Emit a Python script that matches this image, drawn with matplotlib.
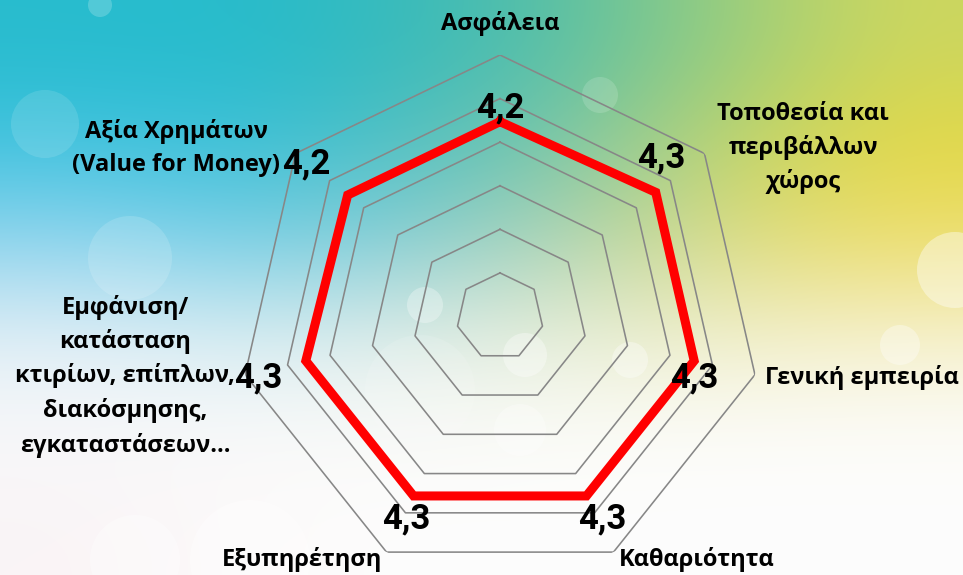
import numpy as np
import matplotlib
matplotlib.use("Agg")
import matplotlib.pyplot as plt
from matplotlib.patches import Circle

plt.rcParams['font.family'] = ['Open Sans', 'DejaVu Sans']
plt.rcParams['font.weight'] = 'bold'

# data
categories = ['Ασφάλεια', 'Τοποθεσία και\nπεριβάλλων\nχώρος', 'Γενική εμπειρία',
              'Καθαριότητα', 'Εξυπηρέτηση',
              'Εμφάνιση/\nκατάσταση\nκτιρίων, επίπλων,\nδιακόσμησης,\nεγκαταστάσεων…',
              'Αξία Χρημάτων\n(Value for Money)']
scores = [4.2, 4.3, 4.3, 4.3, 4.3, 4.3, 4.2]
score_labels = ['4,2', '4,3', '4,3', '4,3', '4,3', '4,3', '4,2']

W, H = 963, 575
fig = plt.figure(figsize=(W / 100, H / 100), dpi=100)

# background gradient (decorative)
bg_colors = np.array([
    [(40, 188, 206), (38, 188, 204), (55, 186, 188), (90, 192, 165), (150, 205, 128), (205, 215, 95)],
    [(65, 195, 224), (58, 192, 216), (80, 192, 196), (125, 198, 168), (190, 212, 110), (228, 216, 68)],
    [(145, 212, 238), (120, 207, 232), (135, 205, 212), (175, 212, 180), (220, 220, 130), (238, 222, 110)],
    [(225, 238, 245), (215, 236, 242), (222, 236, 232), (232, 238, 215), (240, 238, 200), (245, 240, 205)],
    [(248, 248, 250), (250, 250, 250), (250, 250, 248), (252, 252, 248), (252, 252, 250), (252, 252, 250)],
    [(250, 244, 246), (252, 250, 250), (253, 253, 253), (253, 253, 253), (253, 253, 253), (253, 253, 253)],
]) / 255.0
bg = fig.add_axes([0, 0, 1, 1])
bg.imshow(bg_colors, extent=[0, W, H, 0], interpolation='bicubic', aspect='auto')
for cx, cy, r, a in [(45, 124, 34, 0.12), (130, 258, 42, 0.15), (135, 560, 45, 0.35),
                     (250, 560, 60, 0.35), (420, 390, 55, 0.12), (425, 305, 18, 0.3),
                     (525, 355, 22, 0.35), (520, 430, 26, 0.3), (630, 360, 18, 0.35),
                     (955, 270, 38, 0.4), (900, 345, 20, 0.35), (600, 95, 18, 0.15),
                     (100, 5, 12, 0.2)]:
    bg.add_patch(Circle((cx, cy), r, color='white', alpha=a, lw=0))
bg.set_xlim(0, W)
bg.set_ylim(H, 0)
bg.axis('off')

# radar
R_MIN = -0.27
cx, cy, R = 500, 316.5, 261.5
ax = fig.add_axes([(cx - R) / W, (H - cy - R) / H, 2 * R / W, 2 * R / H], projection='polar')
ax.patch.set_alpha(0)
ax.set_theta_zero_location('N')
ax.set_theta_direction(-1)
ax.set_ylim(R_MIN, R_MIN + 6)
ax.grid(False)
ax.spines['polar'].set_visible(False)
ax.set_xticks([])
ax.set_yticks([])

n = len(categories)
angles = np.linspace(0, 2 * np.pi, n, endpoint=False)
closed = np.append(angles, angles[0])

for ring in R_MIN + np.arange(1, 7):
    ax.plot(closed, [ring] * (n + 1), color='#878787', lw=1.15, zorder=1)

ax.plot(closed, scores + scores[:1], color='#ff0000', lw=6.5, solid_joinstyle='miter', zorder=3)

label_offsets = [(0, 14), (6, 34), (0, -17), (16, -23), (-7, -23), (-48, -17), (-41, 31)]
for a, s, t, off in zip(angles, scores, score_labels, label_offsets):
    ax.annotate(t, xy=(a, s), xytext=(off[0] * 0.72, off[1] * 0.72), textcoords='offset points',
                ha='center', va='center', fontsize=25, fontweight='bold', color='black', zorder=4,
                family=['Roboto', 'DejaVu Sans'])

# category labels (pixel positions of text centres)
cat_pos = [(500, 24), (803, 148), (862, 378), (697, 560), (302, 560), (125, 376), (176, 148)]
for txt, (px, py) in zip(categories, cat_pos):
    fig.text(px / W, 1 - py / H, txt, ha='center', va='center', fontsize=17,
             fontweight='bold', color='black', linespacing=1.5)

fig.savefig('out.png', dpi=100)
